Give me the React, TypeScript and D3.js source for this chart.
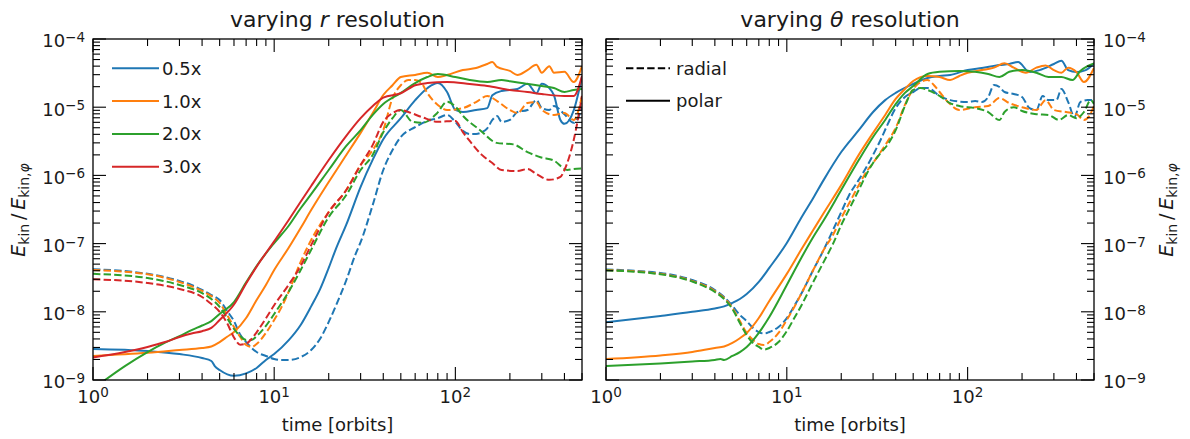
import React from "react";
import * as d3 from "d3";

type Pt = [number, number];

// ---------- labels / ticks ----------
const legendLabels = ["0.5x", "1.0x", "2.0x", "3.0x"];
const styleLabels = ["radial", "polar"];
const colors = ["#1f77b4", "#ff7f0e", "#2ca02c", "#d62728"];
const xTickExps = [0, 1, 2];
const yTickExps = [-4, -5, -6, -7, -8, -9];
const titleSymbols = ["r", "θ"];

// ---------- left panel: varying r resolution (solid = polar, dashed = radial) ----------
const rPolar05: Pt[] = [[1,2.85e-9],[2,2.66e-9],[3,2.4e-9],[4,2.1e-9],[4.5,1.9e-9],[4.7,1.6e-9],[5,1.4e-9],[6,1.15e-9],[7,1.25e-9],[8,1.5e-9],[9,1.97e-9],[10,2.4e-9],[12,3.8e-9],[14,6.4e-9],[16,1.2e-8],[18,2.2e-8],[20,4.4e-8],[22,8.6e-8],[25,1.9e-7],[30,6.8e-7],[35,1.7e-6],[40,3.4e-6],[50,6.9e-6],[60,1.27e-5],[70,1.9e-5],[80,2.26e-5],[90,1.67e-5],[100,9.1e-6],[110,8.5e-6],[130,9.1e-6],[150,9.7e-6],[160,1.5e-5],[180,1.73e-5],[220,1.85e-5],[250,2.2e-5],[280,1.6e-5],[300,2.2e-5],[330,1.9e-5],[350,1.5e-5],[380,6.5e-6],[400,5.7e-6],[450,9e-6],[500,2.8e-5]];
const rRadial05: Pt[] = [[1,4.2e-8],[1.5,3.96e-8],[2,3.6e-8],[2.5,3.24e-8],[3,2.83e-8],[3.5,2.47e-8],[4,2.09e-8],[4.5,1.76e-8],[5,1.49e-8],[5.5,1.03e-8],[6,7.3e-9],[6.5,4.6e-9],[7,3.6e-9],[8,2.57e-9],[9,2.25e-9],[10,2.03e-9],[11,1.97e-9],[12,1.97e-9],[14,2.17e-9],[16,2.75e-9],[18,4.1e-9],[20,7.1e-9],[22,1.26e-8],[25,2.9e-8],[28,6.8e-8],[30,1.05e-7],[35,3.7e-7],[40,1.2e-6],[45,2.36e-6],[50,3.66e-6],[60,5.1e-6],[70,6.3e-6],[80,6.9e-6],[90,7.7e-6],[100,6.1e-6],[110,4.5e-6],[120,4.05e-6],[130,4.05e-6],[140,4.3e-6],[150,4.9e-6],[160,6.5e-6],[170,7.4e-6],[180,6.1e-6],[200,6.5e-6],[220,8.5e-6],[250,9.1e-6],[280,1.27e-5],[300,9.7e-6],[330,9.1e-6],[350,1.04e-5],[400,7.9e-6],[450,5.9e-6],[500,9.7e-6]];
const rPolar10: Pt[] = [[1,2.25e-9],[2,2.5e-9],[3,2.75e-9],[4,2.95e-9],[4.5,3.1e-9],[5,3.6e-9],[5.5,4.3e-9],[6,5.05e-9],[7,8.1e-9],[8,1.49e-8],[9,2.47e-8],[10,4.1e-8],[12,8.6e-8],[14,1.69e-7],[16,3.1e-7],[20,8e-7],[25,1.99e-6],[30,4.2e-6],[35,8.2e-6],[40,1.51e-5],[45,2.1e-5],[50,2.77e-5],[60,2.97e-5],[70,3.2e-5],[80,2.77e-5],[90,2.97e-5],[110,3.5e-5],[130,3.76e-5],[150,4.3e-5],[160,4.6e-5],[170,3.9e-5],[200,3.4e-5],[220,2.97e-5],[250,3.5e-5],[280,4.2e-5],[300,3.2e-5],[330,4e-5],[350,3.2e-5],[400,3.3e-5],[450,2.34e-5],[500,4e-5]];
const rRadial10: Pt[] = [[1,4.1e-8],[2,3.55e-8],[3,2.74e-8],[4,2.02e-8],[4.5,1.7e-8],[5,1.35e-8],[5.5,9e-9],[6,6e-9],[6.5,4.27e-9],[7,3.26e-9],[7.5,3.05e-9],[8,3.37e-9],[9,4.9e-9],[10,7.6e-9],[11,1.18e-8],[12,1.95e-8],[14,5.4e-8],[16,1.13e-7],[20,2.9e-7],[25,6.1e-7],[30,1.42e-6],[35,2.36e-6],[40,4.6e-6],[45,1.36e-5],[50,2.1e-5],[55,2.5e-5],[60,2.5e-5],[65,2.26e-5],[70,1.62e-5],[80,1.08e-5],[90,9.1e-6],[110,9.7e-6],[130,1.19e-5],[150,1.46e-5],[170,1.23e-5],[200,9.1e-6],[220,8.2e-6],[250,1.15e-5],[280,1.19e-5],[300,9.1e-6],[350,7.7e-6],[400,8.2e-6],[450,6.5e-6],[500,1.46e-5]];
const rPolar20: Pt[] = [[1,7.4e-10],[1.5,1.6e-9],[2,2.57e-9],[2.5,3.54e-9],[3,4.4e-9],[3.5,5.4e-9],[4,6.3e-9],[4.5,7.3e-9],[5,9.3e-9],[6,1.39e-8],[7,2.7e-8],[8,4.7e-8],[10,1.02e-7],[12,1.81e-7],[14,3.3e-7],[16,5.3e-7],[20,1.2e-6],[25,2.7e-6],[30,4.6e-6],[35,7.7e-6],[40,1.11e-5],[50,1.62e-5],[60,2.26e-5],[70,2.77e-5],[80,3.07e-5],[100,2.77e-5],[120,2.5e-5],[150,2.34e-5],[180,2.5e-5],[200,2.4e-5],[250,2.19e-5],[300,2.05e-5],[350,1.91e-5],[400,1.67e-5],[450,1.79e-5],[500,1.85e-5]];
const rRadial20: Pt[] = [[1,3.6e-8],[2,3.13e-8],[3,2.47e-8],[4,1.88e-8],[4.5,1.54e-8],[5,1.18e-8],[5.5,8.1e-9],[6,5.6e-9],[6.5,4.4e-9],[7,3.86e-9],[7.5,3.86e-9],[8,4.4e-9],[9,6.2e-9],[10,9.3e-9],[12,1.95e-8],[14,4.1e-8],[16,8.1e-8],[20,2.45e-7],[25,5.15e-7],[30,1.2e-6],[35,2e-6],[40,4.3e-6],[45,6.9e-6],[50,9.1e-6],[58,6.1e-6],[66,5.9e-6],[79,8.1e-6],[90,1.2e-5],[100,1.02e-5],[111,7.3e-6],[137,4.6e-6],[169,3e-6],[209,2.85e-6],[250,2.2e-6],[295,1.85e-6],[350,1.65e-6],[415,1.2e-6],[450,1.24e-6],[500,1.26e-6]];
const rPolar30: Pt[] = [[1,2.14e-9],[1.5,2.57e-9],[2,3.05e-9],[2.5,3.6e-9],[3,4.27e-9],[3.5,4.8e-9],[4,5.2e-9],[4.5,5.8e-9],[5,7.6e-9],[6,1.28e-8],[7,2.6e-8],[8,4.6e-8],[10,1.08e-7],[12,2.2e-7],[14,4.1e-7],[16,7e-7],[20,1.68e-6],[25,3.8e-6],[30,6.9e-6],[35,1.04e-5],[40,1.38e-5],[50,1.6e-5],[60,2.1e-5],[70,2.26e-5],[90,2.34e-5],[120,2.19e-5],[150,2.05e-5],[200,1.79e-5],[250,1.67e-5],[300,1.56e-5],[400,1.46e-5],[450,1.46e-5],[500,2.87e-5]];
const rRadial30: Pt[] = [[1,3.0e-8],[2,2.64e-8],[3,2.16e-8],[4,1.65e-8],[4.5,1.3e-8],[5,1.0e-8],[5.5,6.8e-9],[6,4.2e-9],[6.5,3.3e-9],[7,3.4e-9],[7.5,4.0e-9],[8,5e-9],[9,8e-9],[10,1.25e-8],[12,2.47e-8],[14,4.7e-8],[16,9.5e-8],[20,2.9e-7],[25,6.1e-7],[30,1.42e-6],[35,2.8e-6],[40,6.1e-6],[45,8.2e-6],[50,9.1e-6],[55,8.5e-6],[65,7.2e-6],[80,6.1e-6],[100,6.3e-6],[110,4.3e-6],[120,3.2e-6],[140,2e-6],[160,1.52e-6],[180,1.2e-6],[220,1.16e-6],[250,1.24e-6],[280,1.05e-6],[330,8.6e-7],[380,9.5e-7],[400,1.2e-6],[450,3.3e-6],[500,1.46e-5]];

// ---------- right panel: varying theta resolution ----------
const tPolar05: Pt[] = [[1,7e-9],[2,8.7e-9],[3,1e-8],[4,1.12e-8],[4.5,1.2e-8],[5,1.35e-8],[5.5,1.54e-8],[6,1.82e-8],[7,2.74e-8],[8,4.4e-8],[10,1.02e-7],[12,2.37e-7],[14,4.66e-7],[16,8.6e-7],[20,2.2e-6],[25,4.6e-6],[30,8.5e-6],[35,1.27e-5],[40,1.62e-5],[50,2.19e-5],[60,2.68e-5],[70,2.87e-5],[80,2.97e-5],[100,3.5e-5],[120,3.76e-5],[150,4.15e-5],[170,4.3e-5],[190,4.6e-5],[220,3.28e-5],[250,3.5e-5],[300,4.3e-5],[330,4.8e-5],[360,3.5e-5],[400,3.28e-5],[450,3.5e-5],[500,4.4e-5]];
const tRadial05: Pt[] = [[1,4.17e-8],[2,3.7e-8],[3,2.93e-8],[4,2.09e-8],[4.5,1.65e-8],[5,1.22e-8],[5.5,9e-9],[6,7.3e-9],[6.5,5.8e-9],[7,5.05e-9],[7.5,4.8e-9],[8,5.05e-9],[9,6e-9],[10,8.1e-9],[11,1.22e-8],[12,1.82e-8],[14,4.1e-8],[16,8.1e-8],[18,1.58e-7],[20,2.9e-7],[22,5e-7],[25,8.6e-7],[28,1.42e-6],[30,2e-6],[33,3.3e-6],[36,5.5e-6],[40,9.7e-6],[45,1.41e-5],[50,1.67e-5],[55,1.91e-5],[60,1.91e-5],[70,1.46e-5],[80,1.27e-5],[100,1.19e-5],[110,1.23e-5],[120,1.19e-5],[130,1.41e-5],[140,2.12e-5],[150,1.98e-5],[160,1.67e-5],[180,1.56e-5],[200,1.41e-5],[220,9.7e-6],[240,9.1e-6],[260,1.46e-5],[280,1.27e-5],[310,1.27e-5],[330,1.85e-5],[360,1.19e-5],[390,7.2e-6],[420,1.19e-5],[460,1.27e-5],[500,1.27e-5]];
const tPolar10: Pt[] = [[1,2.03e-9],[2,2.29e-9],[3,2.57e-9],[4,2.95e-9],[4.5,3.1e-9],[5,3.5e-9],[5.5,4.1e-9],[6,4.9e-9],[7,8.1e-9],[8,1.44e-8],[10,3.6e-8],[12,8.1e-8],[14,1.58e-7],[16,2.81e-7],[20,7.2e-7],[25,2e-6],[30,4.2e-6],[35,7.7e-6],[40,1.32e-5],[45,1.85e-5],[50,2.42e-5],[60,2.87e-5],[70,2.77e-5],[80,2.5e-5],[90,2.87e-5],[100,3.2e-5],[120,3.5e-5],[140,3.8e-5],[160,4.4e-5],[180,3.8e-5],[210,3.2e-5],[240,3.8e-5],[270,4.1e-5],[300,3.5e-5],[330,3.2e-5],[360,3.8e-5],[400,3.28e-5],[440,2.34e-5],[500,3.76e-5]];
const tRadial10: Pt[] = [[1,4.1e-8],[2,3.6e-8],[3,2.83e-8],[4,2.02e-8],[4.5,1.6e-8],[5,1.14e-8],[5.5,7.3e-9],[6,4.9e-9],[6.5,3.86e-9],[7,3.37e-9],[7.5,3.26e-9],[8,3.6e-9],[9,4.9e-9],[10,7.6e-9],[11,1.18e-8],[12,1.82e-8],[14,4.1e-8],[16,8.1e-8],[18,1.34e-7],[20,2.37e-7],[22,3.8e-7],[25,7.2e-7],[28,1.2e-6],[30,1.52e-6],[33,2.2e-6],[36,3.1e-6],[40,4.95e-6],[45,1.08e-5],[50,1.85e-5],[55,2.34e-5],[60,2.5e-5],[65,2.12e-5],[70,1.67e-5],[80,1.11e-5],[90,9.1e-6],[110,1e-5],[130,1.04e-5],[150,1.36e-5],[170,1.15e-5],[200,1e-5],[240,9.1e-6],[270,1.27e-5],[300,9.1e-6],[350,8.5e-6],[400,7.9e-6],[440,6.5e-6],[470,7.4e-6],[500,1.04e-5]];
const tPolar20: Pt[] = [[1,1.6e-9],[2,1.75e-9],[3,1.87e-9],[4,1.97e-9],[4.3,2.03e-9],[4.5,1.97e-9],[5,2.25e-9],[5.5,2.57e-9],[6,3.05e-9],[7,4.9e-9],[8,8.4e-9],[10,2.47e-8],[12,6.1e-8],[14,1.25e-7],[16,2.2e-7],[20,6.1e-7],[25,1.68e-6],[30,3.66e-6],[35,6.5e-6],[40,1.11e-5],[45,1.62e-5],[50,2.04e-5],[60,3.07e-5],[70,3.3e-5],[90,3.4e-5],[110,3.3e-5],[130,3.07e-5],[150,2.77e-5],[170,3.3e-5],[200,3.5e-5],[240,3.2e-5],[280,2.77e-5],[330,2.77e-5],[380,2.5e-5],[420,3.4e-5],[460,4e-5],[500,4.4e-5]];
const tRadial20: Pt[] = [[1,4.05e-8],[2,3.55e-8],[3,2.78e-8],[4,1.95e-8],[4.5,1.54e-8],[5,1.1e-8],[5.5,6.85e-9],[6,4.57e-9],[6.5,3.48e-9],[7,3.05e-9],[7.5,2.8e-9],[8,2.95e-9],[9,3.6e-9],[10,5.2e-9],[11,8.1e-9],[12,1.22e-8],[14,2.74e-8],[16,5.4e-8],[18,9.9e-8],[20,1.87e-7],[22,3.1e-7],[25,6.1e-7],[28,1.12e-6],[30,1.52e-6],[33,2.13e-6],[36,2.8e-6],[40,4.6e-6],[45,1.04e-5],[50,1.79e-5],[55,1.91e-5],[60,1.79e-5],[70,1.46e-5],[80,1.15e-5],[90,1.04e-5],[110,9.7e-6],[130,8.5e-6],[150,6.5e-6],[160,8.5e-6],[180,1e-5],[200,8.8e-6],[240,7.9e-6],[280,7.7e-6],[320,6.5e-6],[360,7.7e-6],[400,6.9e-6],[440,8.5e-6],[480,1.27e-5],[500,1.11e-5]];

// ---------- layout ----------
const W = 1190;
const H = 439;
const TOP = 39;
const BOTTOM = 380;
const FONT = "'DejaVu Sans', sans-serif";
const TXT = "#1a1a1a";
const MAJ = 13;
const MIN = 7;

interface Series { data: Pt[]; color: string; dashed: boolean }

const leftSeries: Series[] = [
  { data: rRadial05, color: colors[0], dashed: true },
  { data: rPolar05, color: colors[0], dashed: false },
  { data: rRadial10, color: colors[1], dashed: true },
  { data: rPolar10, color: colors[1], dashed: false },
  { data: rRadial20, color: colors[2], dashed: true },
  { data: rPolar20, color: colors[2], dashed: false },
  { data: rRadial30, color: colors[3], dashed: true },
  { data: rPolar30, color: colors[3], dashed: false },
];
const rightSeries: Series[] = [
  { data: tRadial05, color: colors[0], dashed: true },
  { data: tPolar05, color: colors[0], dashed: false },
  { data: tRadial10, color: colors[1], dashed: true },
  { data: tPolar10, color: colors[1], dashed: false },
  { data: tRadial20, color: colors[2], dashed: true },
  { data: tPolar20, color: colors[2], dashed: false },
];

const DASH = "7.4 3.2";

function Panel(props: { id: string; x0: number; x1: number; series: Series[]; sym: string; labelSide: "left" | "right"; legend: "res" | "style" }) {
  const { id, x0, x1, series, sym, labelSide, legend } = props;
  const xs = d3.scaleLog().domain([1, 500]).range([x0, x1]);
  const ys = d3.scaleLog().domain([1e-9, 1e-4]).range([BOTTOM, TOP]);
  const line = d3.line<Pt>().x(d => xs(d[0])).y(d => ys(d[1])).curve(d3.curveMonotoneX);

  const xMajor = xTickExps.map(e => Math.pow(10, e));
  const xMinor: number[] = [];
  for (let d = 0; d <= 2; d++) for (let k = 2; k <= 9; k++) { const v = k * Math.pow(10, d); if (v <= 500) xMinor.push(v); }
  const yMajor = yTickExps.map(e => Math.pow(10, e));
  const yMinor: number[] = [];
  for (let d = -9; d <= -5; d++) for (let k = 2; k <= 9; k++) yMinor.push(k * Math.pow(10, d));

  const cx = (x0 + x1) / 2;
  const tick = (key: string, x1_: number, y1_: number, x2_: number, y2_: number) => (
    <line key={key} x1={x1_} y1={y1_} x2={x2_} y2={y2_} stroke="#000" strokeWidth={1.1} />
  );

  return (
    <g fontFamily={FONT} fill={TXT}>
      <defs>
        <clipPath id={id}>
          <rect x={x0} y={TOP} width={x1 - x0} height={BOTTOM - TOP} />
        </clipPath>
      </defs>
      <g clipPath={`url(#${id})`}>
        {series.map((s, i) => (
          <path key={i} d={line(s.data) || ""} fill="none" stroke={s.color} strokeWidth={2}
            strokeDasharray={s.dashed ? DASH : undefined} strokeLinejoin="round" />
        ))}
      </g>
      {/* ticks */}
      {xMajor.map((v, i) => (
        <g key={"xM" + i}>
          {tick("b", xs(v), BOTTOM, xs(v), BOTTOM - MAJ)}
          {tick("t", xs(v), TOP, xs(v), TOP + MAJ)}
        </g>
      ))}
      {xMinor.map((v, i) => (
        <g key={"xm" + i}>
          {tick("b", xs(v), BOTTOM, xs(v), BOTTOM - MIN)}
          {tick("t", xs(v), TOP, xs(v), TOP + MIN)}
        </g>
      ))}
      {yMajor.map((v, i) => (
        <g key={"yM" + i}>
          {tick("l", x0, ys(v), x0 + MAJ, ys(v))}
          {tick("r", x1, ys(v), x1 - MAJ, ys(v))}
        </g>
      ))}
      {yMinor.map((v, i) => (
        <g key={"ym" + i}>
          {tick("l", x0, ys(v), x0 + MIN, ys(v))}
          {tick("r", x1, ys(v), x1 - MIN, ys(v))}
        </g>
      ))}
      <rect x={x0} y={TOP} width={x1 - x0} height={BOTTOM - TOP} fill="none" stroke="#000" strokeWidth={1.3} />

      {/* x tick labels */}
      {xTickExps.map((e, i) => (
        <text key={"xl" + i} x={xs(Math.pow(10, e))} y={403} fontSize={18} textAnchor="middle">
          10<tspan dy={-6} fontSize={13.5}>{e}</tspan>
        </text>
      ))}
      {/* y tick labels */}
      {yTickExps.map((e, i) => (
        <text key={"yl" + i} x={labelSide === "left" ? x0 - 8 : x1 + 9} y={ys(Math.pow(10, e)) + 8.4}
          fontSize={18} textAnchor={labelSide === "left" ? "end" : "start"}>
          10<tspan dy={-5.5} fontSize={13.5}>{"\u2212" + Math.abs(e)}</tspan>
        </text>
      ))}
      {/* axis labels */}
      <text x={cx} y={431} fontSize={18} textAnchor="middle">time [orbits]</text>
      <text transform={`translate(${labelSide === "left" ? 25 : 1173},210) rotate(-90)`} fontSize={19} textAnchor="middle">
        <tspan fontStyle="italic">E</tspan>
        <tspan fontSize={14} dy={4}>kin</tspan>
        <tspan dy={-4}>{"\u2009/\u2009"}</tspan>
        <tspan fontStyle="italic">E</tspan>
        <tspan fontSize={14} dy={4}>kin,</tspan>
        <tspan fontSize={14} fontStyle="italic">φ</tspan>
      </text>
      {/* title */}
      <text x={cx} y={27} fontSize={22} textAnchor="middle">
        varying <tspan fontStyle="italic">{sym}</tspan> resolution
      </text>
      {/* legend */}
      {legend === "res"
        ? legendLabels.map((lab, i) => {
            const y = 68.3 + i * 32.8;
            return (
              <g key={"lg" + i}>
                <line x1={x0 + 19} x2={x0 + 66} y1={y} y2={y} stroke={colors[i]} strokeWidth={2} />
                <text x={x0 + 69} y={y + 6.5} fontSize={18}>{lab}</text>
              </g>
            );
          })
        : styleLabels.map((lab, i) => {
            const y = 68.3 + i * 32.4;
            return (
              <g key={"lg" + i}>
                <line x1={x0 + 20} x2={x0 + 64} y1={y} y2={y} stroke="#000" strokeWidth={2}
                  strokeDasharray={i === 0 ? DASH : undefined} />
                <text x={x0 + 70} y={y + 6.5} fontSize={18}>{lab}</text>
              </g>
            );
          })}
    </g>
  );
}

export default function App() {
  return (
    <svg width={W} height={H} viewBox={`0 0 ${W} ${H}`}
      style={{ position: "absolute", left: 0, top: 0, background: "#fff", display: "block" }}>
      <rect x={0} y={0} width={W} height={H} fill="#fff" />
      <Panel id="clipL" x0={93} x1={582} series={leftSeries} sym={titleSymbols[0]} labelSide="left" legend="res" />
      <Panel id="clipR" x0={606} x1={1094} series={rightSeries} sym={titleSymbols[1]} labelSide="right" legend="style" />
    </svg>
  );
}
